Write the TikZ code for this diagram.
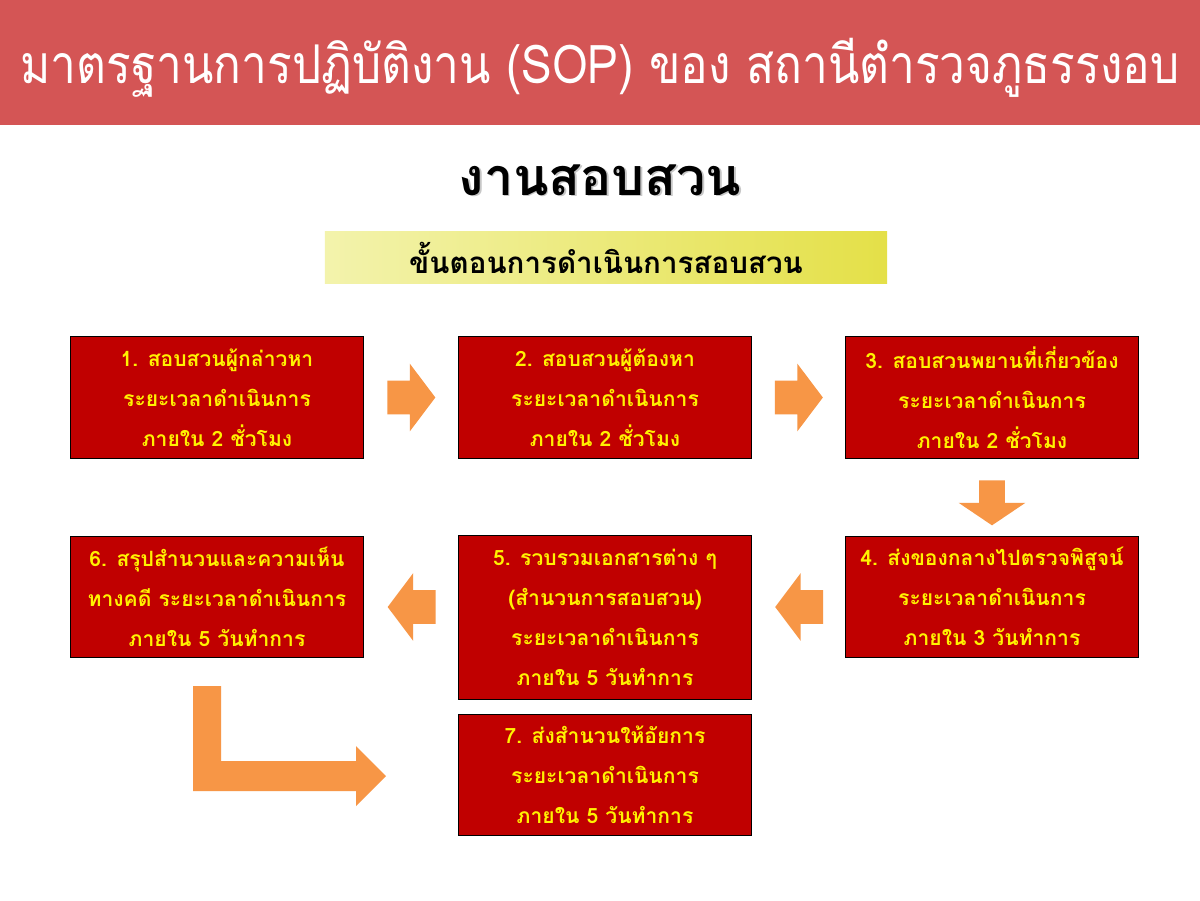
\documentclass[tikz,border=0pt]{standalone}
\usepackage{fontspec}
\newfontfamily\thaifont[Script=Thai]{Loma}
\newfontfamily\headfont[Script=Thai, FakeStretch=0.86]{Loma}
\usetikzlibrary{shapes.arrows, positioning, calc}
\definecolor{headred}{RGB}{212,85,85}
\definecolor{boxred}{RGB}{192,0,0}
\definecolor{arroworange}{RGB}{247,150,70}
\definecolor{bandleft}{RGB}{243,243,172}
\definecolor{bandright}{RGB}{228,224,72}

\begin{document}
\begin{tikzpicture}[
    x=0.025cm, y=-0.025cm,
    % Node styles
    stepbox/.style={
        rectangle,
        draw=black,
        line width=0.7pt,
        fill=boxred,
        minimum width=7.3cm,
        minimum height=3.025cm,
        inner sep=0pt,
        align=center,
        text=yellow,
        font=\thaifont\bfseries\fontsize{15}{28.4}\selectfont
    },
    blockarrow/.style={
        single arrow,
        fill=arroworange,
        draw=none,
        inner xsep=0pt,
        inner ysep=0.4125cm,
        minimum height=1.2cm,
        single arrow head extend=0.425cm,
        single arrow tip angle=106
    },
    headtext/.style={
        text=white,
        font=\headfont\fontsize{38}{44}\selectfont
    },
    bigtitle/.style={
        text=black,
        font=\thaifont\bfseries\fontsize{37}{44}\selectfont
    },
    band/.style={
        rectangle,
        left color=bandleft,
        right color=bandright,
        minimum width=14.05cm,
        minimum height=1.275cm,
        font=\thaifont\bfseries\fontsize{21}{26}\selectfont
    }
]
\useasboundingbox[fill=white] (0,0) rectangle (1200,900);

% --- Header ---
\fill[headred] (0,0) rectangle (1200,125);
\node[headtext] (header) at (600,68) {มาตรฐานการปฏิบัติงาน (SOP) ของ สถานีตำรวจภูธรรงอบ};

\node[bigtitle, text=black!22] (sectionshadow) at (601.5,181.5) {งานสอบสวน};
\node[bigtitle] (section) at (600,180) {งานสอบสวน};
\node[band] (stepband) at (606,257.5) {ขั้นตอนการดำเนินการสอบสวน};

% --- Steps ---
\node[stepbox] (accuser) at (217,397.5) {1. สอบสวนผู้กล่าวหา \\ ระยะเวลาดำเนินการ \\ ภายใน 2 ชั่วโมง};
\node[stepbox] (suspect) at (605,397.5) {2. สอบสวนผู้ต้องหา \\ ระยะเวลาดำเนินการ \\ ภายใน 2 ชั่วโมง};
\node[stepbox] (witness) at (992,397.5) {3. สอบสวนพยานที่เกี่ยวข้อง \\ ระยะเวลาดำเนินการ \\ ภายใน 2 ชั่วโมง};

\node[stepbox] (evidence) at (992,596.5) {4. ส่งของกลางไปตรวจพิสูจน์ \\ ระยะเวลาดำเนินการ \\ ภายใน 3 วันทำการ};
\node[stepbox, minimum height=4.075cm] (collect) at (605,617.5) {5. รวบรวมเอกสารต่าง ๆ \\ (สำนวนการสอบสวน) \\ ระยะเวลาดำเนินการ \\ ภายใน 5 วันทำการ};
\node[stepbox] (summary) at (217,596.5) {6. สรุปสำนวนและความเห็น \\ ทางคดี ระยะเวลาดำเนินการ \\ ภายใน 5 วันทำการ};

\node[stepbox] (prosecutor) at (605,775) {7. ส่งสำนวนให้อัยการ \\ ระยะเวลาดำเนินการ \\ ภายใน 5 วันทำการ};

% --- Arrows ---
\node[blockarrow] (arr12) at ($(accuser.east)!0.5!(suspect.west)+(-6,0)$) {};
\node[blockarrow] (arr23) at ($(suspect.east)!0.5!(witness.west)+(-6,0)$) {};
\node[blockarrow, rotate=-90, inner ysep=0.3125cm, minimum height=1.125cm,
      single arrow head extend=0.5125cm, single arrow tip angle=112]
      (arr34) at ($(witness.south)!0.5!(evidence.north)+(0,1.5)$) {};
\node[blockarrow, rotate=180] (arr45) at ($(evidence.west)!0.5!(collect.east)+(7,0)$) {};
\node[blockarrow, rotate=180] (arr56) at ($(collect.west)!0.5!(summary.east)+(7,0)$) {};

% bent arrow from step 6 to step 7
\fill[arroworange] (193,686) -- (221,686) -- (221,761) -- (356,761) -- (356,746)
    -- (386,776) -- (356,806) -- (356,791) -- (193,791) -- cycle;

\end{tikzpicture}
\end{document}
